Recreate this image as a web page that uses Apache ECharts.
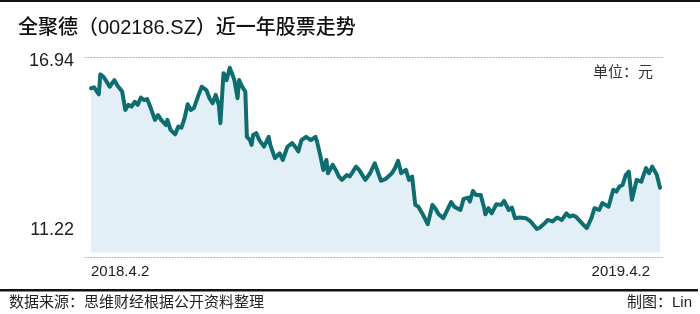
<!DOCTYPE html>
<html>
<head>
<meta charset="utf-8">
<script src="https://cdn.jsdelivr.net/npm/echarts@6/dist/echarts.min.js"></script>
<style>
html,body{margin:0;padding:0;background:#fff;}
#c{width:700px;height:314px;}
</style>
</head>
<body>
<div id="c"></div>
<script>
// Days since 2018-04-02 (trading-day samples)
const dayOffsets = [0,2,5,6,8,10,12,15,17,18,20,22,24,26,28,30,32,34,36,38,41,43,45,48,49,51,54,56,58,60,62,64,66,69,71,74,76,78,80,82,83,85,86,87,89,90,92,94,95,97,99,100,102,103,104,106,108,111,114,115,118,121,123,126,129,131,133,135,138,141,144,145,147,149,151,152,155,157,159,161,164,166,170,172,176,179,182,186,189,193,195,197,199,202,204,206,208,210,213,216,219,221,223,226,231,233,237,239,242,243,245,247,250,252,253,255,257,260,263,265,268,270,272,275,279,282,286,288,291,293,296,299,302,305,307,309,311,315,318,321,323,326,328,330,332,335,337,339,341,343,345,347,350,351,353,356,358,360,363,365];
// Closing price, 元
const closePrices = [15.92,15.95,15.72,16.38,16.30,16.14,15.97,16.19,16.00,16.05,15.81,15.20,15.37,15.31,15.47,15.37,15.61,15.53,15.56,15.31,14.87,15.03,14.87,14.70,14.87,14.54,14.39,14.65,14.61,14.92,15.39,15.20,15.26,15.70,15.97,15.86,15.59,15.42,15.70,15.37,14.76,16.42,16.36,16.19,16.60,16.47,16.19,15.59,16.19,15.97,15.81,14.31,14.20,14.04,14.37,14.43,14.20,13.98,14.31,14.04,13.60,13.76,13.54,13.98,14.10,13.98,13.82,14.20,14.31,14.20,14.31,14.15,13.71,13.21,13.54,13.10,13.38,13.21,12.99,12.88,13.04,12.99,13.32,13.21,12.88,13.10,13.43,12.85,12.91,13.10,13.27,13.51,13.10,13.21,12.88,12.99,12.05,11.99,11.72,11.41,12.05,11.92,11.74,11.61,12.14,11.99,11.88,12.25,12.29,12.16,12.51,12.38,12.38,11.99,11.74,11.94,11.77,12.07,12.05,12.18,11.88,11.96,11.61,11.63,11.61,11.50,11.25,11.30,11.44,11.55,11.50,11.63,11.55,11.77,11.66,11.70,11.66,11.44,11.28,11.61,11.94,11.88,12.11,12.05,11.99,12.55,12.49,12.66,12.71,13.04,13.15,12.22,12.88,12.94,12.82,13.27,13.10,13.32,13.04,12.62];
const xTickDays = [0, 365];
const xTickLabels = ['2018.4.2', '2019.4.2'];
const yTickValues = [11.22, 16.94];
const titleText = '全聚德（002186.SZ）近一年股票走势';
const unitText = '单位：元';
const sourceText = '数据来源：思维财经根据公开资料整理';
const creditText = '制图：Lin';

const seriesData = dayOffsets.map((d, i) => [d, closePrices[i]]);
const latin = '"Liberation Sans", "Noto Sans CJK SC", sans-serif';
const dotted = { show: true, lineStyle: { color: '#a8a8a8', width: 1, type: [1, 2] } };

const chart = echarts.init(document.getElementById('c'), null, { renderer: 'canvas' });
chart.setOption({
  animation: false,
  backgroundColor: '#fff',
  title: [
    { text: titleText, left: 18, top: 18, padding: 0,
      textStyle: { fontFamily: latin, fontSize: 20, fontWeight: 500, color: '#111' } },
    { text: sourceText, left: 9, top: 295, padding: 0,
      textStyle: { fontFamily: latin, fontSize: 15, fontWeight: 'normal', color: '#222' } },
    { text: creditText, right: 8, top: 295, padding: 0,
      textStyle: { fontFamily: latin, fontSize: 15, fontWeight: 'normal', color: '#222' } }
  ],
  graphic: [
    { type: 'rect', left: 0, top: 0, shape: { width: 700, height: 2 }, style: { fill: '#111' }, silent: true },
    { type: 'rect', left: 0, top: 289, shape: { width: 698, height: 2.5 }, style: { fill: '#111' }, silent: true },
    { type: 'text', x: 653, y: 73, silent: true,
      style: { text: unitText, align: 'right', verticalAlign: 'middle', fontFamily: latin, fontSize: 15, fill: '#333' } }
  ],
  grid: { left: 85, right: 38, top: 57.5, bottom: 61.5, containLabel: false },
  xAxis: [
    { type: 'value', position: 'bottom', min: -3.85, max: 366.28, offset: 5,
      axisLine: dotted, axisTick: { show: false }, splitLine: { show: false },
      axisLabel: {
        customValues: xTickDays, margin: 7, fontFamily: latin, fontSize: 15, color: '#222',
        alignMinLabel: 'left', alignMaxLabel: 'right',
        formatter: function (v) {
          const i = xTickDays.indexOf(v);
          const t = i >= 0 ? xTickLabels[i] : '';
          return i === xTickDays.length - 1 ? '{r|' + t + '}' : '{l|' + t + '}';
        },
        rich: { l: { padding: [0, 0, 0, 0] }, r: { padding: [0, 10, 0, 0] } }
      }
    },
    { type: 'value', position: 'top', min: -3.85, max: 366.28,
      axisLine: dotted, axisTick: { show: false }, splitLine: { show: false }, axisLabel: { show: false } }
  ],
  yAxis: {
    type: 'value', min: 10.47, max: 16.94,
    axisLine: { show: false }, axisTick: { show: false }, splitLine: { show: false },
    axisLabel: {
      customValues: yTickValues, margin: 11, fontFamily: latin, fontSize: 18, color: '#222',
      formatter: function (v) {
        const s = v.toFixed(2);
        return v === yTickValues[yTickValues.length - 1] ? '{t|' + s + '}' : '{b|' + s + '}';
      },
      rich: { t: { padding: [8, 0, 0, 0] }, b: { padding: [0, 0, 0, 0] } }
    }
  },
  series: [{
    type: 'line', xAxisIndex: 0, data: seriesData, symbol: 'none', smooth: false,
    lineStyle: { color: '#0e6d6f', width: 4, join: 'round', cap: 'round' },
    areaStyle: { color: '#e2eff7', opacity: 1, origin: 'start' },
    z: 3
  }]
});
</script>
</body>
</html>
